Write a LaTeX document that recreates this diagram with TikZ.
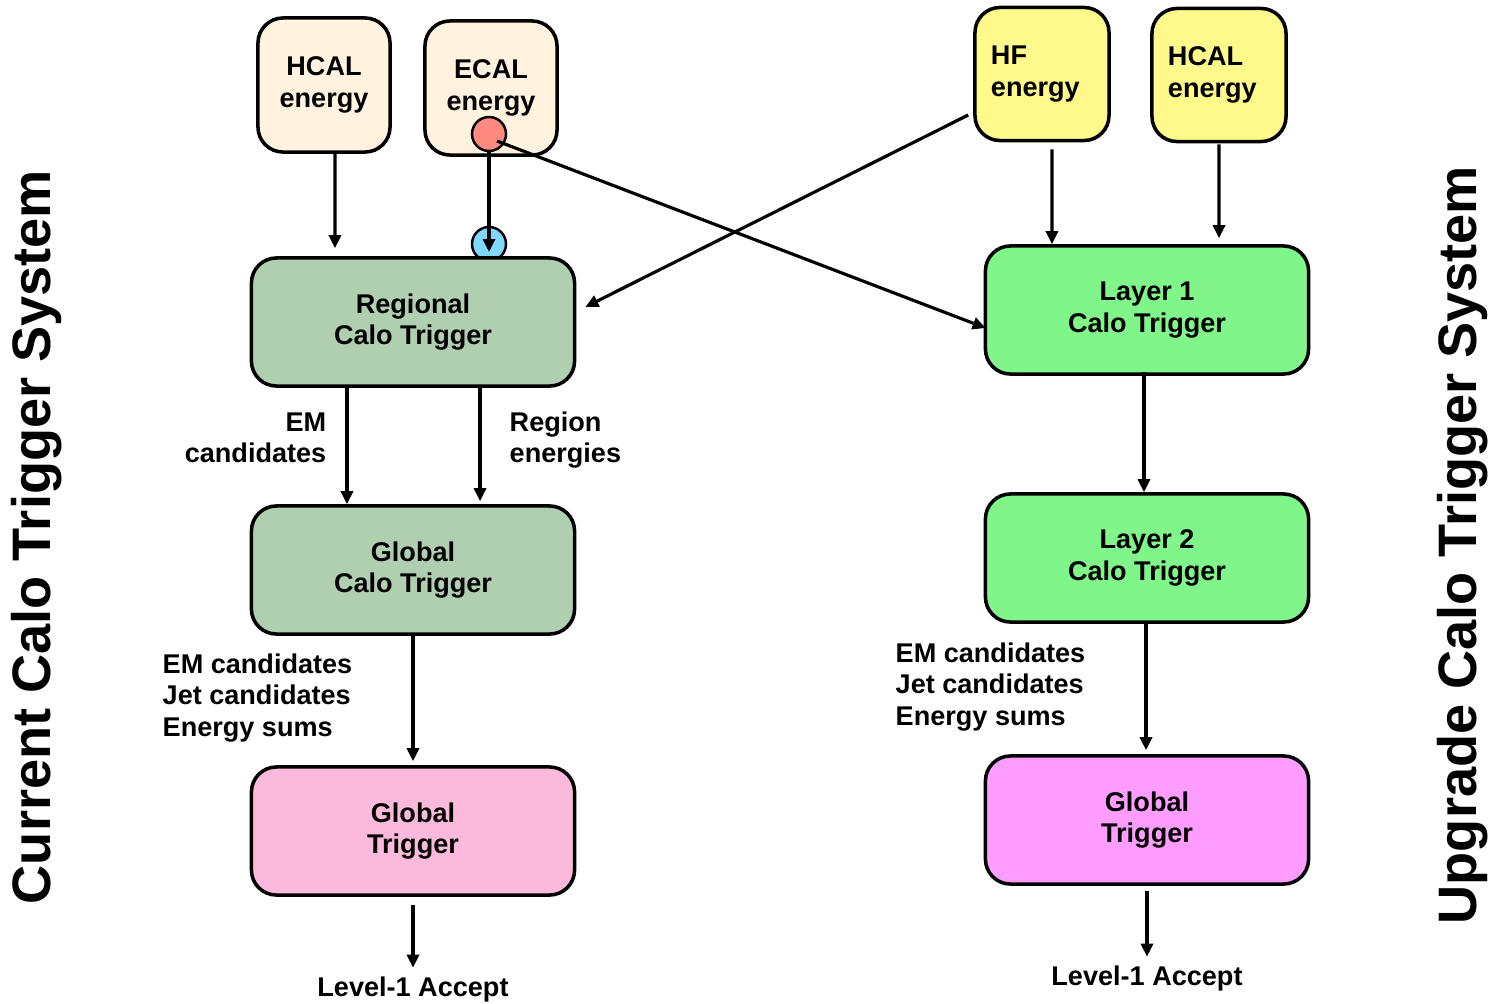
\documentclass[tikz,border=0pt]{standalone}
\usepackage{fontspec}
\setmainfont{Liberation Sans}
\usetikzlibrary{positioning,arrows.meta}

\definecolor{creamfill}{RGB}{255,243,224}
\definecolor{yellowfill}{RGB}{255,249,140}
\definecolor{sagefill}{RGB}{176,206,176}
\definecolor{limefill}{RGB}{128,246,138}
\definecolor{pinkfill}{RGB}{251,186,220}
\definecolor{magentafill}{RGB}{255,156,255}
\definecolor{redport}{RGB}{255,138,128}
\definecolor{blueport}{RGB}{128,216,255}

\newcommand{\boxfont}{\fontsize{7.7}{8.9}\selectfont\bfseries}
\newcommand{\titlefont}{\fontsize{15.4}{18}\selectfont\bfseries}

\begin{document}
\begin{tikzpicture}[
  x=0.01cm, y=-0.01cm,
  source/.style={
    rectangle, draw, line width=1pt, rounded corners=2.5mm,
    minimum width=1.32cm, minimum height=1.34cm,
    align=center, font=\boxfont, fill=creamfill
  },
  rightsrc/.style={
    source, fill=yellowfill, align=left,
    text width=1.02cm, inner xsep=0.16cm,
    minimum width=1.34cm, minimum height=1.33cm
  },
  trigger/.style={
    rectangle, draw, line width=1pt, rounded corners=2.5mm,
    minimum width=3.23cm, minimum height=1.28cm,
    align=center, font=\boxfont,
    execute at begin node=\rule{0pt}{8.3pt}
  },
  port/.style={circle, draw, line width=0.7pt, minimum size=0.34cm, inner sep=0pt},
  lbl/.style={font=\boxfont, align=left, inner sep=0pt},
  title/.style={font=\titlefont, rotate=90, inner sep=0pt},
  arr/.style={-{Triangle[length=1.3mm,width=1.2mm]}, line width=0.9pt}
]
\useasboundingbox (0,0) rectangle (1494,1003);

% Current system (left)
\node[source] (hcalL) at (324,85) {HCAL\\energy};
\node[source] (ecalL) at (491,88) {ECAL\\energy};
\node[port, fill=redport] (ecalout) at (489,134) {};
\node[port, fill=blueport] (rctin) at (489,244) {};
\node[trigger, fill=sagefill] (rct) at (413,322) {Regional\\Calo Trigger};
\node[trigger, fill=sagefill] (gct) at (413,570) {Global\\Calo Trigger};
\node[trigger, fill=pinkfill] (gtL) at (413,831) {Global\\Trigger};

\node[lbl, anchor=east, align=right] (emL) at (327,438) {EM\\candidates};
\node[lbl, anchor=west] (regL) at (509,440) {Region\\energies};
\node[lbl, anchor=west] (outL) at (162,698) {EM candidates\\Jet candidates\\Energy sums};
\node[lbl] (accL) at (413,989) {Level-1 Accept};

% Upgrade system (right)
\node[rightsrc] (hf) at (1042,74) {HF\\energy};
\node[rightsrc] (hcalR) at (1219,75) {HCAL\\energy};
\node[trigger, fill=limefill] (l1) at (1147,310) {Layer 1\\Calo Trigger};
\node[trigger, fill=limefill] (l2) at (1147,558) {Layer 2\\Calo Trigger};
\node[trigger, fill=magentafill] (gtR) at (1147,820) {Global\\Trigger};

\node[lbl, anchor=west] (outR) at (895,687) {EM candidates\\Jet candidates\\Energy sums};
\node[lbl] (accR) at (1147,978) {Level-1 Accept};

% Side titles
\node[title] (curT) at (37,537) {Current Calo Trigger System};
\node[title] (upgT) at (1463,545) {Upgrade Calo Trigger System};

% Left flow
\draw[arr] ([xshift=0.11cm]hcalL.south) -- ([xshift=-0.78cm,yshift=0.08cm]rct.north);
\draw[arr] (ecalout.south) -- ([yshift=-0.08cm]rctin.center);
\draw[arr] ([xshift=-0.66cm]rct.south) -- ([xshift=-0.66cm]gct.north);
\draw[arr] ([xshift=0.67cm]rct.south) -- ([xshift=0.67cm,yshift=0.03cm]gct.north);
\draw[arr] (gct.south) -- ([yshift=0.04cm]gtL.north);
\draw[arr] ([yshift=-0.08cm]gtL.south) -- ([yshift=0.08cm]accL.north);

% Right flow
\draw[arr] ([xshift=0.1cm,yshift=-0.07cm]hf.south) -- ([xshift=-0.95cm]l1.north);
\draw[arr] ([yshift=-0.01cm]hcalR.south) -- ([xshift=0.72cm,yshift=0.06cm]l1.north);
\draw[arr] ([xshift=-0.03cm,yshift=0.04cm]l1.south) -- ([xshift=-0.03cm]l2.north);
\draw[arr] ([xshift=-0.01cm,yshift=0.03cm]l2.south) -- ([xshift=-0.01cm,yshift=0.04cm]gtR.north);
\draw[arr] ([yshift=-0.05cm]gtR.south) -- ([yshift=0.08cm]accR.north);

% Crossing feeds
\draw[arr] ([shift={(-5,41)}]hf.west) -- ([shift={(9,-15)}]rct.east);
\draw[arr] ([shift={(8,7)}]ecalout.center) -- ([shift={(2,18)}]l1.west);

\end{tikzpicture}
\end{document}
